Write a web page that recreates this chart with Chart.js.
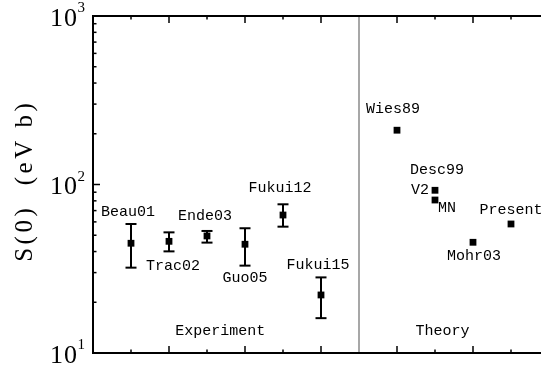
<!DOCTYPE html>
<html>
<head>
<meta charset="utf-8">
<script src="https://cdn.jsdelivr.net/npm/chart.js@4/dist/chart.umd.min.js"></script>
<style>
  html, body { margin: 0; padding: 0; background: #fff; overflow: hidden; }
  #wrap { width: 541px; height: 373px; overflow: hidden; }
  canvas { display: block; }
</style>
</head>
<body>
<div id="wrap"><canvas id="c" width="560" height="373"></canvas></div>
<script>
// Measured astrophysical S-factors (eV b) with error ranges
const expLabels = ['Beau01', 'Trac02', 'Ende03', 'Guo05', 'Fukui12', 'Fukui15'];
const expX      = [1, 2, 3, 4, 5, 6];
const expS      = [44.8, 46.0, 49.5, 44.2, 65.9, 22.1];
const expHigh   = [58.3, 52.0, 53.0, 55.0, 76.3, 28.1];
const expLow    = [32.1, 40.1, 45.2, 33.0, 56.2, 16.1];

// Theoretical predictions
const theoryLabels = ['Wies89', 'V2', 'MN', 'Mohr03', 'Present'];
const theoryX      = [8, 9, 9, 10, 11];
const theoryS      = [210, 92.4, 80.9, 45.4, 58.3];

// Axis settings
const yTickExponents = [1, 2, 3];
const separatorX = 7;
const groupTitles = ['Experiment', 'Theory'];
const groupTitleX = [3.35, 9.2];
const groupTitleY = 13.5;

// Label placement relative to each marker (pixels)
const labelOffsets = {
  Beau01: [-3, -31], Trac02: [4, 25], Ende03: [-2, -20], Guo05: [0, 34],
  Fukui12: [-3, -27], Fukui15: [-3, -30], Wies89: [-4, -21.5],
  V2: [-15, 0], MN: [12, 8], Mohr03: [1, 14], Present: [0, -14]
};
const desc99Offset = [2, -20];

const LABEL_FONT = '15px "Liberation Mono", monospace';

function line(ctx, x1, y1, x2, y2) {
  ctx.beginPath(); ctx.moveTo(x1, y1); ctx.lineTo(x2, y2); ctx.stroke();
}

const decorations = {
  id: 'decorations',
  beforeDatasetsDraw(chart) {
    const { ctx, chartArea: a, scales: { x, y } } = chart;
    ctx.save();
    // group separator
    const sx = x.getPixelForValue(separatorX);
    ctx.strokeStyle = '#8a8a8a';
    ctx.lineWidth = 1.5;
    line(ctx, sx, a.top, sx, a.bottom);
    // error bars
    ctx.strokeStyle = '#000';
    ctx.lineWidth = 2;
    expX.forEach((xv, i) => {
      const px = x.getPixelForValue(xv);
      const hi = y.getPixelForValue(expHigh[i]);
      const lo = y.getPixelForValue(expLow[i]);
      line(ctx, px, hi, px, lo);
      line(ctx, px - 5.5, hi, px + 5.5, hi);
      line(ctx, px - 5.5, lo, px + 5.5, lo);
    });
    ctx.restore();
  },
  afterDatasetsDraw(chart) {
    const { ctx, chartArea: a, scales: { x, y } } = chart;
    ctx.save();
    // frame
    ctx.strokeStyle = '#000';
    ctx.lineWidth = 2;
    ctx.strokeRect(a.left, a.top, a.right - a.left, a.bottom - a.top);

    // x ticks, inward on top and bottom
    ctx.lineWidth = 1.5;
    for (let v = 1; v <= 11; v++) {
      if (v === separatorX) continue;
      const px = x.getPixelForValue(v);
      const len = v % 2 === 0 ? 7 : 3.5;
      line(ctx, px, a.bottom, px, a.bottom - len);
      line(ctx, px, a.top, px, a.top + len);
    }
    // y ticks, inward on left and right
    for (let e = 1; e <= 2; e++) {
      for (let m = 1; m <= 9; m++) {
        const v = m * Math.pow(10, e);
        if (v === 10) continue;
        const py = y.getPixelForValue(v);
        const len = m === 1 ? 7 : 3.5;
        line(ctx, a.left, py, a.left + len, py);
        line(ctx, a.right, py, a.right - len, py);
      }
    }

    // y tick labels 10^n
    ctx.fillStyle = '#000';
    yTickExponents.forEach(e => {
      const py = y.getPixelForValue(Math.pow(10, e));
      ctx.font = '26px "Liberation Serif", serif';
      ctx.textAlign = 'right';
      ctx.textBaseline = 'alphabetic';
      ctx.letterSpacing = '1px';
      ctx.fillText('10', 78, py + 9.5);
      ctx.letterSpacing = '0px';
      ctx.font = '15px "Liberation Serif", serif';
      ctx.textAlign = 'left';
      ctx.fillText(String(e), 77.5, py - 4);
    });

    // point labels
    ctx.font = LABEL_FONT;
    ctx.textAlign = 'center';
    ctx.textBaseline = 'middle';
    expLabels.forEach((lab, i) => {
      const o = labelOffsets[lab];
      ctx.fillText(lab, x.getPixelForValue(expX[i]) + o[0], y.getPixelForValue(expS[i]) + o[1]);
    });
    theoryLabels.forEach((lab, i) => {
      const o = labelOffsets[lab];
      ctx.fillText(lab, x.getPixelForValue(theoryX[i]) + o[0], y.getPixelForValue(theoryS[i]) + o[1]);
    });
    const v2 = theoryLabels.indexOf('V2');
    ctx.fillText('Desc99', x.getPixelForValue(theoryX[v2]) + desc99Offset[0],
                 y.getPixelForValue(theoryS[v2]) + desc99Offset[1]);

    // group titles
    groupTitles.forEach((t, i) => {
      ctx.fillText(t, x.getPixelForValue(groupTitleX[i]), y.getPixelForValue(groupTitleY));
    });

    // y axis title, rotated
    ctx.save();
    ctx.translate(25, 182.5);
    ctx.rotate(-Math.PI / 2);
    ctx.font = '25px "Liberation Serif", serif';
    ctx.textAlign = 'left';
    ctx.textBaseline = 'middle';
    const title = 'S(0)  (eV b)';
    const sp = 3.5;
    let total = 0;
    for (const ch of title) total += ctx.measureText(ch).width + sp;
    total -= sp;
    let cx = -total / 2;
    for (const ch of title) {
      ctx.fillText(ch, cx, 0);
      cx += ctx.measureText(ch).width + sp;
    }
    ctx.restore();

    ctx.restore();
  }
};

const pointStyle = {
  pointStyle: 'rect', pointRadius: 4.8, pointHoverRadius: 4.8,
  backgroundColor: '#000', borderColor: '#000', borderWidth: 0, showLine: false
};

new Chart(document.getElementById('c'), {
  type: 'scatter',
  data: {
    datasets: [
      Object.assign({ label: 'Experiment', data: expX.map((v, i) => ({ x: v, y: expS[i] })) }, pointStyle),
      Object.assign({ label: 'Theory', data: theoryX.map((v, i) => ({ x: v, y: theoryS[i] })) }, pointStyle)
    ]
  },
  options: {
    responsive: false,
    devicePixelRatio: 1,
    animation: false,
    layout: { padding: { left: 93, top: 16, right: 11, bottom: 20 } },
    plugins: { legend: { display: false }, tooltip: { enabled: false } },
    scales: {
      x: { type: 'linear', min: 0, max: 12, display: false },
      y: { type: 'logarithmic', min: 10, max: 1000, display: false }
    }
  },
  plugins: [decorations]
});
</script>
</body>
</html>
